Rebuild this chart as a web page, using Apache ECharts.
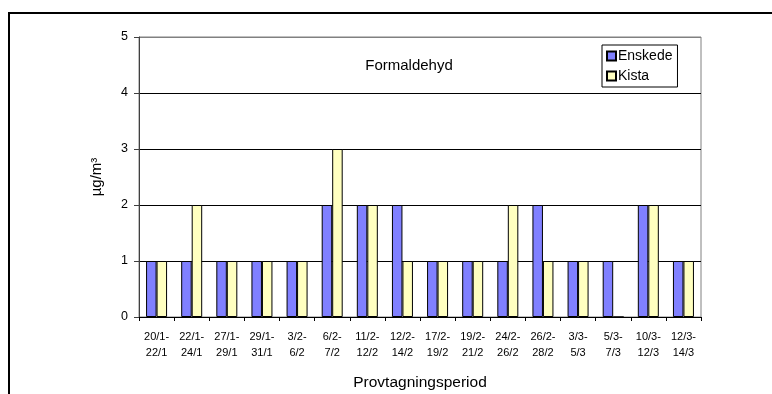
<!DOCTYPE html>
<html>
<head>
<meta charset="utf-8">
<script src="https://cdn.jsdelivr.net/npm/echarts@6/dist/echarts.min.js"></script>
<style>
  html, body { margin: 0; padding: 0; background: #fff; }
  #chart { width: 772px; height: 394px; }
</style>
</head>
<body>
<div id="chart"></div>
<script>
// Sampling periods (start - end)
const periods = [
  '20/1-\n22/1', '22/1-\n24/1', '27/1-\n29/1', '29/1-\n31/1', '3/2-\n6/2', '6/2-\n7/2',
  '11/2-\n12/2', '12/2-\n14/2', '17/2-\n19/2', '19/2-\n21/2', '24/2-\n26/2', '26/2-\n28/2',
  '3/3-\n5/3', '5/3-\n7/3', '10/3-\n12/3', '12/3-\n14/3'
];
// Formaldehyde concentration, µg/m3
const enskede = [1, 1, 1, 1, 1, 2, 2, 2, 1, 1, 1, 2, 1, 1, 2, 1];
const kista   = [1, 2, 1, 1, 1, 3, 2, 1, 1, 1, 2, 1, 1, 0, 2, 1];
const yTicks = [0, 1, 2, 3, 4, 5];

const chart = echarts.init(document.getElementById('chart'));
const font = 'Liberation Sans, Arial, sans-serif';

chart.setOption({
  animation: false,
  backgroundColor: '#fff',
  textStyle: { fontFamily: font, color: '#000' },
  title: {
    text: 'Formaldehyd',
    left: 404, top: 53,
    textAlign: 'center',
    textStyle: { fontFamily: font, fontSize: 15, fontWeight: 'normal', color: '#000' }
  },
  legend: {
    data: ['Enskede', 'Kista'],
    orient: 'vertical',
    left: 602, top: 45,
    padding: [3, 5, 3, 4],
    itemGap: 4,
    itemWidth: 9, itemHeight: 9,
    borderColor: '#000', borderWidth: 1,
    textStyle: { fontFamily: font, fontSize: 14, lineHeight: 16, color: '#000', padding: [0, 0, 0, -3] },
    icon: 'rect'
  },
  graphic: [{
    type: 'rect',
    shape: { x: 9, y: 13, width: 800, height: 420 },
    style: { fill: 'none', stroke: '#000', lineWidth: 2 },
    silent: true
  }],
  grid: {
    left: 139, right: 71, top: 37, bottom: 77,
    outerBoundsMode: 'none',
    containLabel: false,
    show: true, borderColor: '#808080', borderWidth: 1, backgroundColor: 'transparent'
  },
  xAxis: {
    type: 'category',
    data: periods,
    name: 'Provtagningsperiod',
    nameLocation: 'middle',
    nameGap: 58,
    nameTextStyle: { fontFamily: font, fontSize: 15.5, color: '#000' },
    axisLine: { lineStyle: { color: '#000', width: 1 } },
    axisTick: { show: true, length: 4, lineStyle: { color: '#000' } },
    axisLabel: { fontFamily: font, fontSize: 11, color: '#000', lineHeight: 16, margin: 12, interval: 0 },
    splitLine: { show: false }
  },
  yAxis: {
    type: 'value',
    min: yTicks[0], max: yTicks[yTicks.length - 1], interval: 1,
    name: 'µg/m³',
    nameLocation: 'middle',
    nameGap: 35,
    nameRotate: 90,
    nameTextStyle: { fontFamily: font, fontSize: 15, color: '#000' },
    axisLine: { show: true, lineStyle: { color: '#404040', width: 1 } },
    axisTick: { show: true, length: 5, lineStyle: { color: '#404040' } },
    axisLabel: { fontFamily: font, fontSize: 12.5, color: '#000', margin: 11 },
    splitLine: { show: true, lineStyle: { color: ['#000', '#000', '#000', '#000', '#000', '#808080'], width: 1 } }
  },
  series: [
    {
      name: 'Enskede', type: 'bar', data: enskede,
      barWidth: 10.5, barGap: '0%',
      itemStyle: { color: '#8080FF', borderColor: '#000', borderWidth: 1 }
    },
    {
      name: 'Kista', type: 'bar', data: kista,
      barWidth: 10.5, barGap: '0%',
      itemStyle: { color: '#FFFFC0', borderColor: '#000', borderWidth: 1 }
    }
  ]
});
</script>
</body>
</html>
